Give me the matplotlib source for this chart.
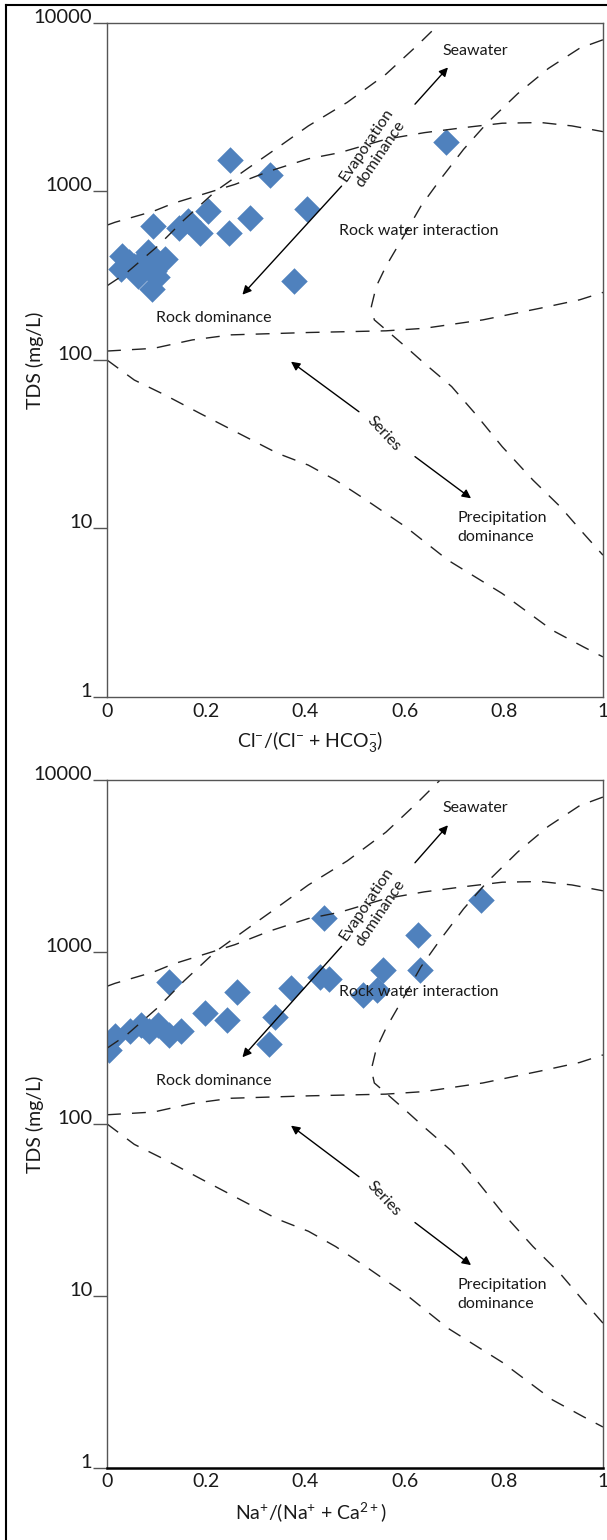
import numpy as np
import matplotlib
matplotlib.use('Agg')
import matplotlib.pyplot as plt
from matplotlib.lines import Line2D
from matplotlib.ticker import NullLocator

plt.rcParams['font.family'] = ['Lato', 'DejaVu Sans']
plt.rcParams['mathtext.fontset'] = 'custom'
plt.rcParams['mathtext.rm'] = 'Lato'
plt.rcParams['mathtext.it'] = 'Lato:italic'
plt.rcParams['mathtext.bf'] = 'Lato:bold'

# Gibbs plot samples - Cl/(Cl+HCO3) vs TDS
cl_ratio = [0.248, 0.328, 0.684, 0.404, 0.288, 0.245, 0.203, 0.188, 0.164, 0.145,
            0.092, 0.377, 0.030, 0.028, 0.045, 0.062, 0.055, 0.082, 0.075, 0.094,
            0.105, 0.117, 0.090, 0.100]
tds_cl = [1530, 1245, 1976, 782, 697, 567, 764, 567, 665, 608,
          622, 295, 412, 345, 380, 315, 360, 440, 400, 335,
          370, 395, 262, 310]

# Na/(Na+Ca) vs TDS
na_ratio = [0.005, 0.017, 0.047, 0.068, 0.085, 0.103, 0.126, 0.149, 0.126, 0.198,
            0.242, 0.263, 0.327, 0.338, 0.370, 0.430, 0.448, 0.438, 0.516, 0.544,
            0.556, 0.627, 0.631, 0.755]
tds_na = [270, 325, 345, 375, 345, 375, 330, 345, 665, 440,
          400, 585, 293, 418, 615, 715, 700, 1570, 560, 600,
          785, 1250, 785, 1990]

# boundary curves of the Gibbs template (x, log10 TDS)
curve_a_x = [0, 0.016, 0.094, 0.133, 0.203, 0.258, 0.328, 0.406, 0.469, 0.5625,
             0.64, 0.72, 0.797, 0.875, 0.9375, 1.0]
curve_a_y = [2.80, 2.817, 2.883, 2.929, 2.992, 3.042, 3.121, 3.194, 3.23, 3.31,
             3.349, 3.379, 3.405, 3.409, 3.389, 3.355]
curve_b_x = [0, 0.039, 0.102, 0.156, 0.219, 0.281, 0.344, 0.406, 0.484, 0.5625, 0.625, 0.672]
curve_b_y = [2.44, 2.516, 2.675, 2.833, 3.002, 3.131, 3.26, 3.389, 3.528, 3.696, 3.865, 4.0]
curve_c_x = [1.0, 0.953, 0.89, 0.828, 0.766, 0.719, 0.672, 0.633, 0.594, 0.5625,
             0.543, 0.533, 0.539, 0.5625, 0.602, 0.64, 0.672, 0.695, 0.742, 0.797,
             0.859, 0.914, 0.961, 1.0]
curve_c_y = [3.90, 3.85, 3.73, 3.58, 3.405, 3.25, 3.071, 2.913, 2.714, 2.556,
             2.437, 2.317, 2.238, 2.179, 2.079, 1.98, 1.9, 1.842, 1.683, 1.485,
             1.287, 1.129, 0.97, 0.842]
curve_d_x = [0, 0.094, 0.172, 0.25, 0.406, 0.5625, 0.64, 0.758, 0.875, 0.953, 1.0]
curve_d_y = [2.053, 2.069, 2.119, 2.149, 2.163, 2.173, 2.188, 2.238, 2.308, 2.357, 2.401]
curve_e_x = [0, 0.055, 0.117, 0.1875, 0.266, 0.344, 0.406, 0.461, 0.523, 0.602,
             0.6875, 0.797, 0.898, 0.961, 1.0]
curve_e_y = [2.0, 1.881, 1.792, 1.683, 1.564, 1.446, 1.376, 1.287, 1.168, 1.01,
             0.812, 0.614, 0.396, 0.297, 0.238]

curves = [(curve_a_x, curve_a_y), (curve_b_x, curve_b_y), (curve_c_x, curve_c_y),
          (curve_d_x, curve_d_y), (curve_e_x, curve_e_y)]

ytick_vals = [1, 10, 100, 1000, 10000]
ytick_labels = ['1', '10', '100', '1000', '10000']
xtick_vals = [0, 0.2, 0.4, 0.6, 0.8, 1.0]
xtick_labels = ['0', '0.2', '0.4', '0.6', '0.8', '1']

txt_color = '#1a1a1a'
pt_color = '#4F81BD'


def draw_panel(ax, xs, ys, xlabel, dark_bottom=False):
    ax.scatter(xs, ys, marker='D', s=13.5 ** 2, color=pt_color, linewidths=0, zorder=1)
    for cx, cy in curves:
        ax.plot(cx, 10 ** np.array(cy), color='#222222', lw=1.0,
                linestyle=(0, (10, 8)), zorder=2)

    arr = dict(arrowstyle='-|>', color='black', lw=1.0, mutation_scale=13,
               shrinkA=0, shrinkB=0)
    ax.annotate('', xy=(0.6875, 5445), xytext=(0.621, 3296), arrowprops=arr)
    ax.annotate('', xy=(0.273, 244), xytext=(0.473, 1076), arrowprops=arr)
    ax.annotate('', xy=(0.371, 97.7), xytext=(0.508, 49.3), arrowprops=arr)
    ax.annotate('', xy=(0.734, 15.1), xytext=(0.621, 26.7), arrowprops=arr)

    fs = 11.5
    ax.text(0.742, 6840, 'Seawater', ha='center', va='center', fontsize=fs, color=txt_color)
    ax.text(0.5375, 1780, 'Evaporation\ndominance', ha='center', va='center',
            rotation=56, rotation_mode='anchor', fontsize=fs, color=txt_color,
            linespacing=1.25)
    ax.text(0.629, 586, 'Rock water interaction', ha='center', va='center',
            fontsize=fs, color=txt_color)
    ax.text(0.216, 177, 'Rock dominance', ha='center', va='center', fontsize=fs,
            color=txt_color)
    ax.text(0.559, 36.6, 'Series', ha='center', va='center', rotation=-47,
            rotation_mode='anchor', fontsize=fs, color=txt_color)
    ax.text(0.707, 10.2, 'Precipitation\ndominance', ha='left', va='center',
            fontsize=fs, color=txt_color, linespacing=1.45)

    ax.set_yscale('log')
    ax.set_xlim(0, 1)
    ax.set_ylim(1, 10000)
    ax.set_yticks(ytick_vals, labels=ytick_labels)
    ax.yaxis.set_minor_locator(NullLocator())
    ax.set_xticks(xtick_vals, labels=xtick_labels)
    ax.tick_params(axis='y', length=10, width=1, color='#555555', pad=0.5,
                   labelsize=14.5, labelcolor=txt_color)
    ax.tick_params(axis='x', length=0, pad=4, labelsize=14, labelcolor=txt_color)
    for lbl in ax.get_yticklabels():
        lbl.set_va('baseline')
    for sp in ax.spines.values():
        sp.set_color('#555555')
        sp.set_linewidth(1.0)
    if dark_bottom:
        ax.spines['bottom'].set_color('black')
        ax.spines['bottom'].set_linewidth(1.8)

    ax.set_xlabel(xlabel, fontsize=14, color=txt_color, labelpad=7)
    ax.xaxis.label.set_x(0.41)
    ax.set_ylabel('TDS (mg/L)', fontsize=14, color=txt_color)
    ax.yaxis.set_label_coords(-0.127, 0.5)


fig = plt.figure(figsize=(6.07, 15.40), dpi=100)
ax1 = fig.add_axes([0.1763, 0.5474, 0.817, 0.4377])
ax2 = fig.add_axes([0.1763, 0.0468, 0.817, 0.4468])

draw_panel(ax1, cl_ratio, tds_cl, 'Cl$^{-}$/(Cl$^{-}$ + HCO$_{3}^{-}$)')
draw_panel(ax2, na_ratio, tds_na, 'Na$^{+}$/(Na$^{+}$ + Ca$^{2+}$)', dark_bottom=True)

# outer frame pieces of the original figure
fig.add_artist(Line2D([0.0107, 0.0107], [0, 0.9968], color='black', lw=1.5))
fig.add_artist(Line2D([0.0107, 1.0], [0.9968, 0.9968], color='black', lw=1.5))

fig.savefig('out.png', dpi=100)
